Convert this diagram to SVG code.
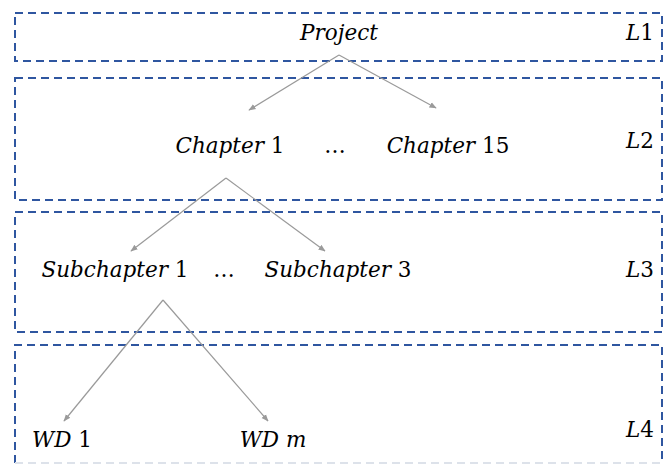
<svg xmlns="http://www.w3.org/2000/svg" width="669" height="464" viewBox="0 0 669 464">
<style>
.lvl{fill:none;stroke:#2F56A0;stroke-width:2;stroke-dasharray:8 5}
.t{font-family:"DejaVu Serif","Liberation Serif",serif;font-style:italic;font-size:21.5px;fill:#000}
.n{font-style:normal}
.e{stroke:#9a9a9a;stroke-width:1.2;fill:none;marker-end:url(#ah)}
</style>
<defs>
<marker id="ah" viewBox="0 0 10 10" refX="9" refY="5" markerWidth="6" markerHeight="6" orient="auto"><path d="M0,1 L10,5 L0,9 z" fill="#9a9a9a"/></marker>
</defs>
<rect width="669" height="464" fill="#fff"/>
<g id="levels">
<rect class="lvl" x="15" y="13" width="647" height="48"/>
<rect class="lvl" x="15" y="78" width="647" height="122"/>
<rect class="lvl" x="15" y="212" width="647" height="120"/>
<path class="lvl" d="M15,463 V345 H662 V463"/>
<line x1="15" y1="463" x2="662" y2="463" stroke="#dde2ea" stroke-width="2" stroke-dasharray="8 5"/>
</g>
<g id="connectors">
<line class="e" x1="339" y1="55" x2="249" y2="110"/>
<line class="e" x1="339" y1="55" x2="436" y2="108"/>
<line class="e" x1="226" y1="178" x2="131" y2="251"/>
<line class="e" x1="226" y1="178" x2="325" y2="251"/>
<line class="e" x1="163" y1="300" x2="64" y2="421"/>
<line class="e" x1="163" y1="300" x2="268" y2="421"/>
</g>
<g id="project"><text class="t" x="339" y="40" text-anchor="middle">Project</text></g>
<g id="l1"><text class="t" x="654" y="40" text-anchor="end">L<tspan class="n">1</tspan></text></g>
<g id="chapter1"><text class="t" x="230" y="153" text-anchor="middle">Chapter<tspan class="n"> 1</tspan></text></g>
<g id="dots1"><text class="t n" x="335" y="153" text-anchor="middle">…</text></g>
<g id="chapter15"><text class="t" x="448" y="153" text-anchor="middle">Chapter<tspan class="n"> 15</tspan></text></g>
<g id="l2"><text class="t" x="654" y="148" text-anchor="end">L<tspan class="n">2</tspan></text></g>
<g id="subchapter1"><text class="t" x="115" y="277" text-anchor="middle">Subchapter<tspan class="n"> 1</tspan></text></g>
<g id="dots2"><text class="t n" x="224" y="277" text-anchor="middle">…</text></g>
<g id="subchapter3"><text class="t" x="338" y="277" text-anchor="middle">Subchapter<tspan class="n"> 3</tspan></text></g>
<g id="l3"><text class="t" x="654" y="277" text-anchor="end">L<tspan class="n">3</tspan></text></g>
<g id="wd1"><text class="t" x="62" y="447" text-anchor="middle">WD<tspan class="n"> 1</tspan></text></g>
<g id="wdm"><text class="t" x="273" y="447" text-anchor="middle">WD m</text></g>
<g id="l4"><text class="t" x="654" y="437" text-anchor="end">L<tspan class="n">4</tspan></text></g>
</svg>
